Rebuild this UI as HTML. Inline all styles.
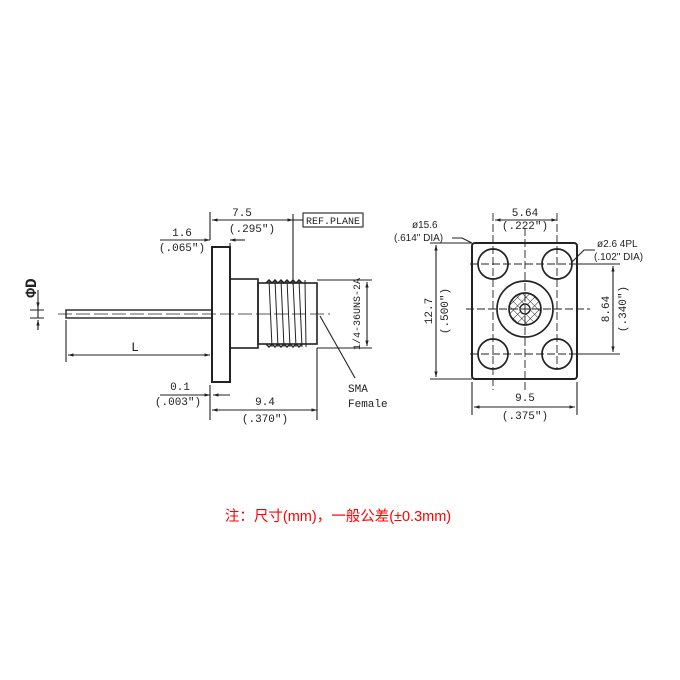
<!DOCTYPE html>
<html><head><meta charset="utf-8"><style>
html,body{margin:0;padding:0;background:#fff;width:680px;height:680px;overflow:hidden}
svg{display:block}
text{font-family:"Liberation Mono",monospace;font-size:11px;fill:#222}
.s{font-family:"Liberation Sans",sans-serif}
</style></head><body>
<svg width="680" height="680" viewBox="0 0 680 680" xmlns="http://www.w3.org/2000/svg">
<defs>
<marker id="a" viewBox="0 0 10 10" refX="10" refY="5" markerWidth="7" markerHeight="5" orient="auto-start-reverse"><path d="M0,2 L10,5 L0,8z" fill="#222"/></marker>
<pattern id="h" width="6" height="6" patternUnits="userSpaceOnUse" patternTransform="rotate(45)"><path d="M0,0H6M0,0V6" stroke="#222" stroke-width="1"/></pattern>
</defs>
<g stroke="#222" fill="none" stroke-width="1.1">
<!-- side view -->
<rect x="212" y="247" width="18" height="135" stroke-width="2"/>
<rect x="230" y="279" width="28" height="69" stroke-width="1.6"/>
<rect x="258" y="283" width="59" height="61" stroke-width="1.6"/>
<path d="M266,283 l3,-3 3,3 3,-3 3,3 3,-3 3,3 3,-3 3,3 3,-3 3,3 3,-3 3,3 M266,344 l3,3 3,-3 3,3 3,-3 3,3 3,-3 3,3 3,-3 3,3 3,-3 3,3 3,-3" stroke-width="1.4"/>
<path d="M269,280 L272,347 M275,280 L278,347 M281,280 L284,347 M287,280 L290,347 M293,280 L296,347 M299,280 L302,347 M305,280 L306,347" stroke-width="1"/>
<rect x="66" y="310" width="146" height="8" stroke-width="1.4"/>
<path d="M58,314 H330" stroke-dasharray="14,4" stroke-width="0.8"/>
<!-- dims side -->
<path d="M210,212 V240 M293,214 V285 M210,385 V420 M317,348 V420 M66,320 V362 M230,243 V250"/>
<path d="M212,220 H293" marker-start="url(#a)" marker-end="url(#a)"/>
<path d="M293,220 H303"/>
<rect x="303" y="213" width="60" height="14"/>
<path d="M160,240 H210" marker-end="url(#a)"/><path d="M245,240 H230" marker-end="url(#a)"/>
<path d="M68,355 H210" marker-start="url(#a)" marker-end="url(#a)"/>
<path d="M160,395 H210" marker-end="url(#a)"/><path d="M230,395 H213" marker-end="url(#a)"/>
<path d="M212,410 H317" marker-start="url(#a)" marker-end="url(#a)"/>
<path d="M317,280 H372 M317,348 H372"/>
<path d="M367,282 V346" marker-start="url(#a)" marker-end="url(#a)"/>
<path d="M38,300 V318 M38,330 V323 M30,310 H44 M30,318 H44"/>
<path d="M38,290 V308" marker-end="url(#a)"/><path d="M38,330 V320" marker-end="url(#a)"/>
<path d="M320,316 L355,378"/>
<!-- front view -->
<rect x="472" y="243" width="105" height="136" rx="3" stroke-width="2"/>
<circle cx="493" cy="264" r="15" stroke-width="1.7"/><circle cx="557" cy="264" r="15" stroke-width="1.7"/>
<circle cx="493" cy="354" r="15" stroke-width="1.7"/><circle cx="557" cy="354" r="15" stroke-width="1.7"/>
<circle cx="525" cy="309" r="28" stroke-width="1.7"/>
<circle cx="525" cy="309" r="16" fill="url(#h)" stroke-width="1.7"/>
<circle cx="525" cy="309" r="5" fill="#fff" stroke-width="1.4"/>
<path d="M470,264 H580 M470,354 H580 M466,309 H590 M493,213 V390 M557,213 V370 M525,228 V392" stroke-dasharray="8,3" stroke-width="0.9"/>
<path d="M495,220 H557" marker-start="url(#a)" marker-end="url(#a)"/>
<path d="M430,243 H472 M430,379 H472 M577,264 H620 M577,354 H620 M472,382 V415 M577,382 V415"/>
<path d="M436,245 V377" marker-start="url(#a)" marker-end="url(#a)"/>
<path d="M613,266 V352" marker-start="url(#a)" marker-end="url(#a)"/>
<path d="M474,407 H575" marker-start="url(#a)" marker-end="url(#a)"/>
<path d="M452,238 H462 L472,243"/>
<path d="M595,250 H584 L572,262"/>
</g>
<text x="242" y="216" text-anchor="middle">7.5</text>
<text x="252" y="232" text-anchor="middle">(.295")</text>
<text x="333" y="224" text-anchor="middle" style="font-size:10px">REF.PLANE</text>
<text x="182" y="236" text-anchor="middle">1.6</text>
<text x="182" y="251" text-anchor="middle">(.065")</text>
<text x="135" y="351" text-anchor="middle" style="font-size:13px">L</text>
<text x="180" y="390" text-anchor="middle">0.1</text>
<text x="178" y="405" text-anchor="middle">(.003")</text>
<text x="265" y="405" text-anchor="middle">9.4</text>
<text x="265" y="422" text-anchor="middle">(.370")</text>
<text x="348" y="392">SMA</text>
<text x="348" y="407">Female</text>
<text transform="translate(360,314) rotate(-90)" text-anchor="middle" style="font-size:10px">1/4-36UNS-2A</text>
<text transform="translate(36,288) rotate(-90)" text-anchor="middle" style="font-size:16px;font-weight:bold">ΦD</text>
<text x="525" y="216" text-anchor="middle">5.64</text>
<text x="525" y="229" text-anchor="middle">(.222")</text>
<text class="s" x="412" y="228" style="font-size:10px">ø15.6</text>
<text class="s" x="394" y="241" style="font-size:10px">(.614"  DIA)</text>
<text class="s" x="597" y="247" style="font-size:10px">ø2.6  4PL</text>
<text class="s" x="594" y="260" style="font-size:10px">(.102"  DIA)</text>
<text transform="translate(432,311) rotate(-90)" text-anchor="middle">12.7</text>
<text transform="translate(448,311) rotate(-90)" text-anchor="middle">(.500")</text>
<text transform="translate(609,309) rotate(-90)" text-anchor="middle">8.64</text>
<text transform="translate(626,309) rotate(-90)" text-anchor="middle">(.340")</text>
<text x="525" y="401" text-anchor="middle">9.5</text>
<text x="525" y="419" text-anchor="middle">(.375")</text>
<text x="338" y="521" text-anchor="middle" style="font-family:'Liberation Sans','Noto Sans CJK SC',sans-serif;font-size:14.5px;fill:#f00">注：尺寸(mm)，一般公差(±0.3mm)</text>
</svg>
</body></html>
